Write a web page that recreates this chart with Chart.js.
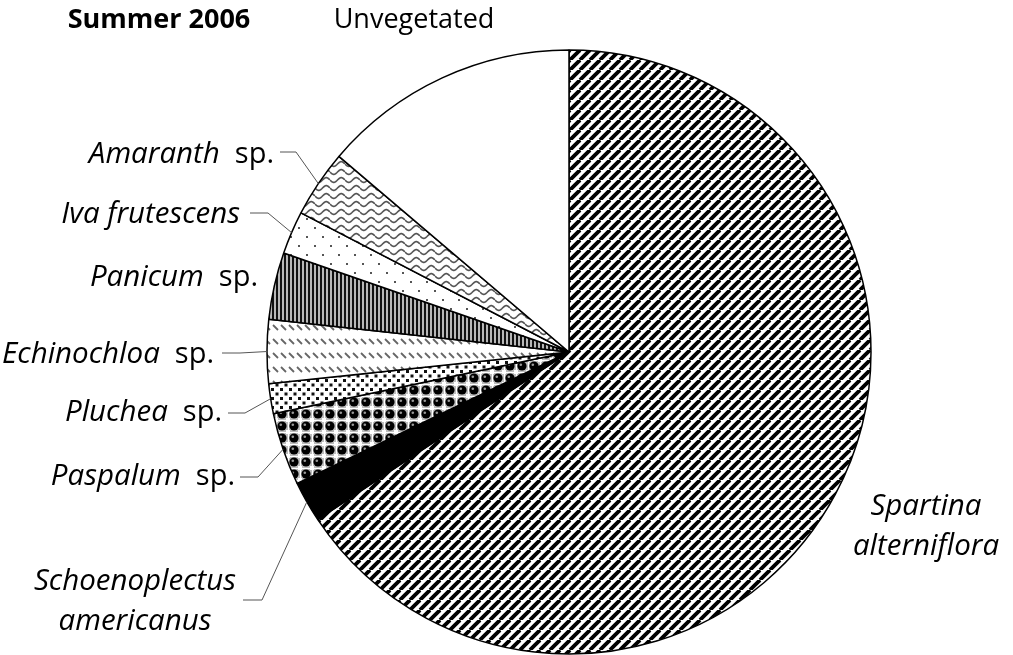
<!DOCTYPE html>
<html>
<head>
<meta charset="utf-8">
<script src="https://cdn.jsdelivr.net/npm/chart.js@4.4.1/dist/chart.umd.min.js"></script>
<style>
  html, body { margin: 0; background: #fff; }
  #wrap { width: 1013px; height: 655px; position: relative; }
</style>
</head>
<body>
<div id="wrap"><canvas id="pie"></canvas></div>
<script>
/* Summer 2006 vegetation cover, pie drawn clockwise from 12 o'clock */
const SPECIES = [
  "Spartina alterniflora", "Schoenoplectus americanus", "Paspalum sp.", "Pluchea sp.",
  "Echinochloa sp.", "Panicum sp.", "Iva frutescens", "Amaranth sp.", "Unvegetated",
];
const COVER = [65.7, 2.2, 3.9, 1.6, 3.4, 3.6, 2.3, 3.6, 13.8];
const TITLE = "Summer 2006";

const FONT = "'Open Sans', Lato, sans-serif";
const SIZE = 27;      // roman text
const ISIZE = 29.5;   // italic genus names
const SP_SIZE = 29;

/* ---- fill patterns ---- */
function tile(w, h, draw) {
  const c = document.createElement("canvas");
  c.width = w; c.height = h;
  const g = c.getContext("2d");
  g.fillStyle = "#fff";
  g.fillRect(0, 0, w, h);
  draw(g, w, h);
  return g.createPattern(c, "repeat");
}

const stripes = tile(10, 10, (g, w, h) => {
  g.strokeStyle = "#000"; g.lineWidth = 3.8;
  for (const o of [-w, 0, w]) { g.beginPath(); g.moveTo(o, h); g.lineTo(o + w, 0); g.stroke(); }
});
const balls = tile(12, 12, (g) => {
  g.fillStyle = "#bdbdbd"; g.fillRect(0, 0, 12, 12);
  g.fillStyle = "#fff";
  g.fillRect(0, 0, 2, 2); g.fillRect(10, 0, 2, 2); g.fillRect(0, 10, 2, 2); g.fillRect(10, 10, 2, 2);
  g.fillRect(0, 0, 12, 1); g.fillRect(0, 0, 1, 12);
  g.fillStyle = "#000"; g.beginPath(); g.arc(6, 6, 4.6, 0, Math.PI * 2); g.fill();
  g.fillStyle = "#9a9a9a"; g.beginPath(); g.arc(4.8, 4.8, 1.3, 0, Math.PI * 2); g.fill();
});
const smallDots = tile(9, 9, (g) => {
  g.fillStyle = "#111";
  g.fillRect(1, 1, 3, 3); g.fillRect(5.5, 5.5, 3, 3);
});
const dashes = tile(8, 14, (g) => {
  g.strokeStyle = "#666"; g.lineWidth = 1.8;
  g.beginPath(); g.moveTo(1, 3); g.lineTo(6, 8); g.stroke();
});
const vlines = tile(4, 4, (g) => {
  g.fillStyle = "#b8b8b8"; g.fillRect(0, 0, 4, 4);
  g.fillStyle = "#111"; g.fillRect(0, 0, 2, 4);
});
const sparseDots = tile(16, 18, (g) => {
  g.fillStyle = "#555";
  g.fillRect(2, 2, 2, 2); g.fillRect(10, 11, 2, 2);
});
const waves = tile(15, 8, (g) => {
  g.strokeStyle = "#555"; g.lineWidth = 1.7;
  g.beginPath();
  for (let x = 0; x <= 15; x += 0.5) {
    const y = 4 + 2.4 * Math.sin((2 * Math.PI * x) / 15);
    x === 0 ? g.moveTo(x, y) : g.lineTo(x, y);
  }
  g.stroke();
});

const FILLS = [stripes, "#000", balls, smallDots, dashes, vlines, sparseDots, waves, "#fff"];

/* ---- label placement: text anchor + optional leader (start x, elbow x, elbow y) ---- */
const LABELS = [
  { lines: [["Spartina", ""], ["alterniflora", ""]], cx: 926, y: 507, dy: 40 },
  { lines: [["Schoenoplectus", ""], ["americanus", ""]], cx: 135, y: 582, dy: 40, lead: [243, 262, 600] },
  { lines: [["Paspalum", "sp."]], rx: 235, y: 477, lead: [240, 258, 477] },
  { lines: [["Pluchea", "sp."]], rx: 222, y: 413, lead: [228, 245, 413] },
  { lines: [["Echinochloa", "sp."]], rx: 214, y: 355, lead: [222, 240, 353] },
  { lines: [["Panicum", "sp."]], rx: 258, y: 278 },
  { lines: [["Iva frutescens", ""]], rx: 240, y: 215, lead: [250, 268, 213] },
  { lines: [["Amaranth", "sp."]], rx: 274, y: 155, lead: [280, 296, 152] },
  { lines: [["", "Unvegetated"]], cx: 414, y: 20 },
];

const callouts = {
  id: "callouts",
  afterDraw(chart) {
    const ctx = chart.ctx;
    const arcs = chart.getDatasetMeta(0).data;
    ctx.save();
    ctx.textBaseline = "middle";
    ctx.fillStyle = "#000";
    ctx.font = `bold ${SIZE}px ${FONT}`;
    ctx.textAlign = "center";
    ctx.fillText(TITLE, 159, 20);

    LABELS.forEach((lab, i) => {
      lab.lines.forEach(([ital, roman], k) => {
        const y = lab.y + k * (lab.dy || 0);
        const rFont = ital ? `${SP_SIZE}px ${FONT}` : `${SIZE}px ${FONT}`;
        ctx.font = rFont;
        const wr = roman ? ctx.measureText(roman).width : 0;
        const gap = ital && roman ? 15 : 0;
        ctx.font = `italic ${ISIZE}px ${FONT}`;
        const wi = ital ? ctx.measureText(ital).width : 0;
        const total = wi + gap + wr;
        const left = lab.rx !== undefined ? lab.rx - total : lab.cx - total / 2;
        ctx.textAlign = "left";
        if (ital) { ctx.font = `italic ${ISIZE}px ${FONT}`; ctx.fillText(ital, left, y); }
        if (roman) { ctx.font = rFont; ctx.fillText(roman, left + wi + gap, y); }
      });
      if (lab.lead) {
        const a = arcs[i];
        const mid = (a.startAngle + a.endAngle) / 2;
        const px = a.x + a.outerRadius * Math.cos(mid);
        const py = a.y + a.outerRadius * Math.sin(mid);
        const [sx, ex, ey] = lab.lead;
        ctx.strokeStyle = "#555";
        ctx.lineWidth = 1;
        ctx.beginPath();
        ctx.moveTo(sx, ey); ctx.lineTo(ex, ey); ctx.lineTo(px, py);
        ctx.stroke();
      }
    });
    ctx.restore();
  },
};

new Chart(document.getElementById("pie"), {
  type: "pie",
  data: {
    labels: SPECIES,
    datasets: [{ data: COVER, backgroundColor: FILLS, borderColor: "#000", borderWidth: 1.5 }],
  },
  options: {
    responsive: true, maintainAspectRatio: false, animation: false,
    radius: 302,
    layout: { padding: { left: 267, right: 142, top: 50, bottom: 1 } },
    plugins: { legend: { display: false }, tooltip: { enabled: false } },
  },
  plugins: [callouts],
});
</script>
</body>
</html>
